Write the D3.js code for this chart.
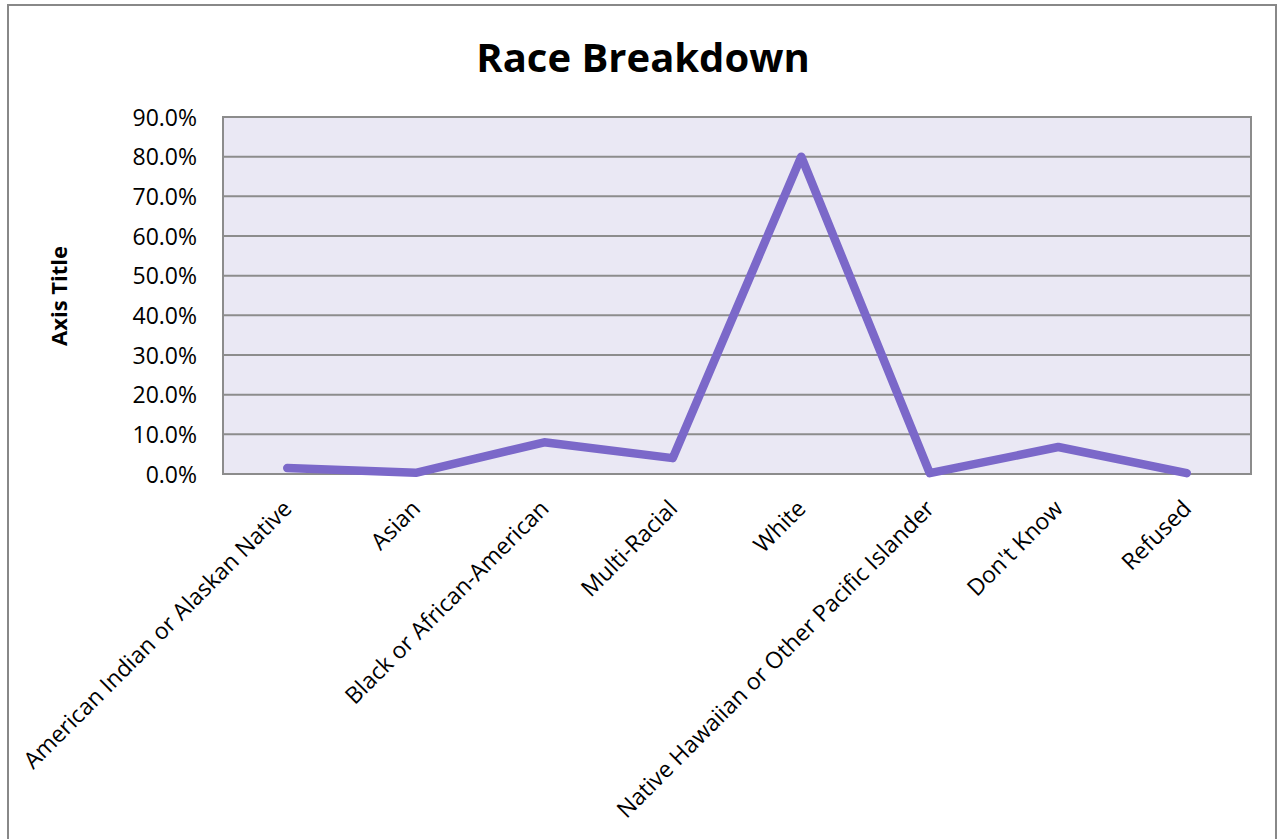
<!DOCTYPE html>
<html>
<head>
<meta charset="utf-8">
<script src="https://cdn.jsdelivr.net/npm/d3@7"></script>
<style>
body{margin:0;background:#fff;}
svg text{font-family:"Open Sans","Noto Sans",sans-serif;fill:#000;}
</style>
</head>
<body>
<div id="chart"></div>
<script>
// data
var categories = ['American Indian or Alaskan Native','Asian','Black or African-American','Multi-Racial','White','Native Hawaiian or Other Pacific Islander',"Don't Know",'Refused'];
var shares = [0.015, 0.003, 0.080, 0.040, 0.800, 0.002, 0.068, 0.002];
var yTicks = [0,0.1,0.2,0.3,0.4,0.5,0.6,0.7,0.8,0.9];

var W = 1278, H = 839;
var m = {left:223, top:117, right:1251, bottom:474};

var svg = d3.select('#chart').append('svg').attr('width',W).attr('height',H);

// outer chart border
svg.append('rect').attr('x',8).attr('y',5).attr('width',W-10).attr('height',H+20)
	.attr('fill','#fff').attr('stroke','#888').attr('stroke-width',2);

var x = d3.scaleBand().domain(categories).range([m.left,m.right]);
var y = d3.scaleLinear().domain([0,0.9]).range([m.bottom,m.top]);

svg.append('rect').attr('x',m.left).attr('y',m.top)
	.attr('width',m.right-m.left).attr('height',m.bottom-m.top)
	.attr('fill','#eae8f4').attr('stroke','#8c8c8c').attr('stroke-width',2);

svg.append('g').selectAll('line').data(yTicks).enter().append('line')
	.attr('x1',m.left).attr('x2',m.right)
	.attr('y1',function(d){return y(d)}).attr('y2',function(d){return y(d)})
	.attr('stroke','#8c8c8c').attr('stroke-width',2);

// y axis labels
var yAxis = svg.append('g').attr('transform','translate('+m.left+',0)')
	.call(d3.axisLeft(y).tickValues(yTicks).tickFormat(d3.format('.1%')).tickSize(0).tickPadding(26));
yAxis.select('.domain').remove();
yAxis.selectAll('text').style('font-size','23px').attr('dy','0.35em');

// x axis labels rotated
var xAxis = svg.append('g').attr('transform','translate(0,'+m.bottom+')')
	.call(d3.axisBottom(x).tickSize(0).tickPadding(0));
xAxis.select('.domain').remove();
xAxis.selectAll('text')
	.style('font-size','23px')
	.attr('text-anchor','end')
	.attr('dy',null).attr('y',0)
	.attr('transform','translate(6,36) rotate(-45)');

var line = d3.line()
	.x(function(d,i){return x(categories[i]) + x.bandwidth()/2})
	.y(function(d){return y(d)});

svg.append('path').datum(shares)
	.attr('d',line)
	.attr('fill','none')
	.attr('stroke','#7b68c9')
	.attr('stroke-width',8.5)
	.attr('stroke-linecap','round')
	.attr('stroke-linejoin','round');

svg.append('text').attr('x',643).attr('y',72).attr('text-anchor','middle')
	.style('font-size','40px').style('font-weight','bold').text('Race Breakdown');

svg.append('text').attr('transform','translate(67,296) rotate(-90)').attr('text-anchor','middle')
	.style('font-size','22px').style('font-weight','bold').text('Axis Title');
</script>
</body>
</html>
